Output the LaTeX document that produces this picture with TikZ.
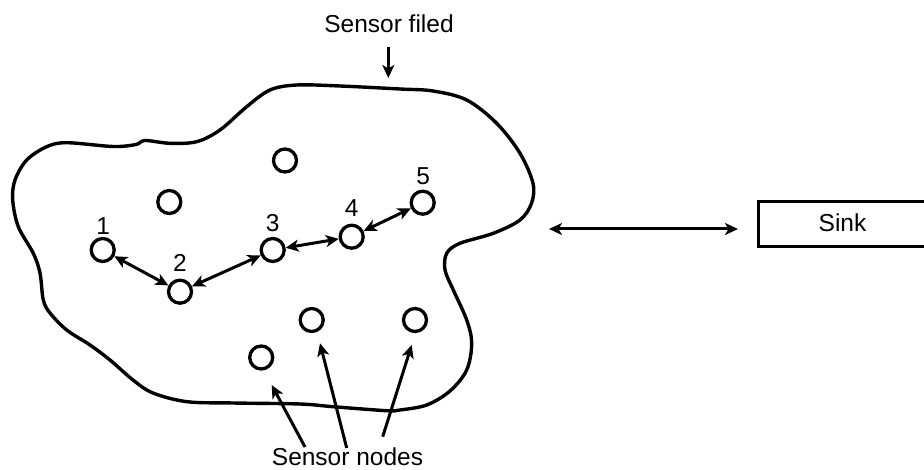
\documentclass[tikz,border=0pt]{standalone}
\usepackage{fontspec}
\setmainfont{Liberation Sans}
\usetikzlibrary{arrows.meta}

\tikzset{
  tip/.tip={Stealth[length=13pt,width=12pt,inset=3.5pt]},
  sensor/.style={circle,draw,line width=3.3pt,minimum size=23pt,inner sep=0pt},
  lbl/.style={font=\fontsize{24.5}{28}\selectfont,inner sep=0pt,anchor=base},
  link/.style={line width=3pt,tip-tip},
  pointer/.style={line width=3pt,-tip},
  field/.style={line width=3.4pt,line join=round},
  sinkbox/.style={draw,line width=3.4pt,minimum width=200pt,minimum height=45pt,inner sep=0pt,anchor=west}
}

\begin{document}
\begin{tikzpicture}[x=1pt,y=-1pt]
  \useasboundingbox (0,0) rectangle (924,470);
  \clip (0,0) rectangle (924,470);

  % outline of the sensor field
  \draw[field] plot[smooth cycle,tension=0.55] coordinates {
    (46.7,146.7) (66.7,142.7) (113,146.5) (136,144.5) (145,140.5) (170,143.3)
    (196.7,141.7) (220,130) (246.7,106.7) (270,90) (296.7,85) (340,86)
    (400,89) (433,91) (466.7,100) (496.7,123.3) (520,153.3) (533,183.3)
    (531.5,203.3) (520,220) (493.3,233.3) (460,243.3) (446.7,253.3) (445,270)
    (453.3,290) (466.7,320) (471.7,343.3) (466.7,370) (450,391) (426.7,405)
    (400,410) (386.7,410.7) (333,406.7) (300,404) (233,403) (187,401.7)
    (153,393) (133,380) (110,360) (90,345) (66.7,330) (50,313) (43.3,300)
    (40,273) (33.3,253.3) (18.3,226.7) (12.7,200) (15,180) (26.7,160)
  };

  % sensor nodes
  \node[sensor] (n1) at (102.7,250) {};
  \node[sensor] (n2) at (180,291.7) {};
  \node[sensor] (n3) at (272.7,250) {};
  \node[sensor] (n4) at (351.7,236.7) {};
  \node[sensor] (n5) at (422.7,202.7) {};
  \node[sensor] (s1) at (169.3,202) {};
  \node[sensor] (s2) at (285,160.5) {};
  \node[sensor] (s3) at (311.7,320) {};
  \node[sensor] (s4) at (415,320) {};
  \node[sensor] (s5) at (261.2,357.5) {};

  % node numbers
  \node[lbl] (l1) at (103.3,235) {1};
  \node[lbl] (l2) at (180,271.7) {2};
  \node[lbl] (l3) at (272.7,231.7) {3};
  \node[lbl] (l4) at (351.7,217) {4};
  \node[lbl] (l5) at (423.3,185) {5};

  % multi-hop route
  \draw[link] (n1) -- (n2);
  \draw[link] (n2) -- (n3);
  \draw[link] (n3) -- (n4);
  \draw[link] (n4) -- (n5);

  % sink
  \node[sinkbox] (sink) at (756.7,224.2) {};
  \node[lbl] (sinktext) at (842.5,232) {Sink};
  \coordinate (fieldside) at (549,229);
  \coordinate (sinkside) at (738,229);
  \draw[link] (fieldside) -- (sinkside);

  % field caption
  \node[lbl] (fieldtext) at (389,33) {Sensor filed};
  \coordinate (ftail) at (388.3,46.7);
  \coordinate (fhead) at (388.3,78);
  \draw[pointer] (ftail) -- (fhead);

  % sensor node caption and pointers
  \node[lbl] (nodestext) at (347.5,465) {Sensor nodes};
  \coordinate (t1) at (305,447);
  \coordinate (h1) at (271.7,385);
  \coordinate (t2) at (346.7,448);
  \coordinate (h2) at (320,343.3);
  \coordinate (t3) at (382.7,436.7);
  \coordinate (h3) at (411.7,345);
  \draw[pointer] (t1) -- (h1);
  \draw[pointer] (t2) -- (h2);
  \draw[pointer] (t3) -- (h3);
\end{tikzpicture}
\end{document}
